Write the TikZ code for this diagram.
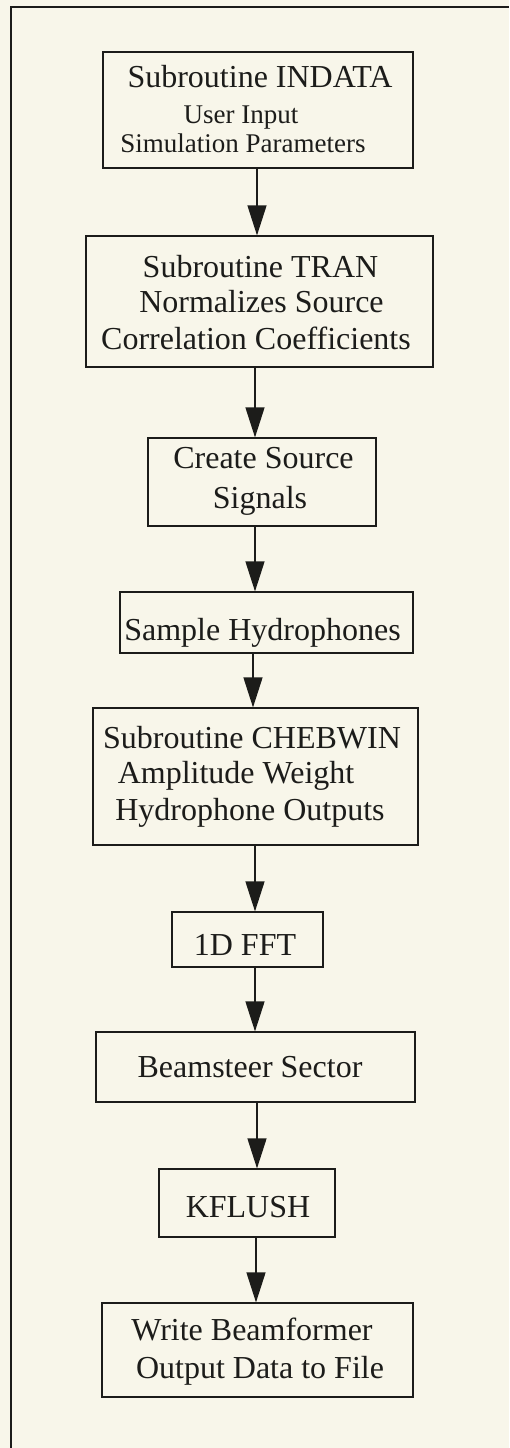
\documentclass[tikz,border=0pt]{standalone}
\usepackage{fontspec}
\setmainfont{Liberation Serif}
\usetikzlibrary{arrows.meta}
\definecolor{paper}{HTML}{F8F6EA}
\definecolor{ink}{HTML}{1C1C1A}
\begin{document}
\begin{tikzpicture}[x=1pt,y=-1pt,
  stepbox/.style={draw=ink, line width=1.2pt, inner sep=0pt, fill=none},
  txt/.style={anchor=base, inner sep=0pt, text=ink, font=\fontsize{32}{38}\selectfont},
  txtsmall/.style={txt, font=\fontsize{27}{31}\selectfont},
  flow/.style={draw=ink, line width=1.2pt, -{Triangle[length=30pt,width=19pt]}},
  frameline/.style={draw=ink, line width=2pt}]
  % page
  \fill[paper] (0,0) rectangle (509,1448);
  \useasboundingbox (0,0) rectangle (509,1448);
  % outer frame (left and top edges)
  \coordinate (fl) at (10.5,1448);
  \coordinate (fc) at (10.5,7);
  \coordinate (fr) at (509,7);
  \draw[frameline] (fl) -- (fc) -- (fr);

  % boxes
  \node[stepbox, minimum width=310, minimum height=116] (b1) at (258,110) {};
  \node[stepbox, minimum width=347, minimum height=131] (b2) at (259.5,301.5) {};
  \node[stepbox, minimum width=228, minimum height=88]  (b3) at (262,482) {};
  \node[stepbox, minimum width=293, minimum height=61]  (b4) at (266.5,622.5) {};
  \node[stepbox, minimum width=325, minimum height=137] (b5) at (255.5,776.5) {};
  \node[stepbox, minimum width=151, minimum height=55]  (b6) at (247.5,939.5) {};
  \node[stepbox, minimum width=319, minimum height=70]  (b7) at (255.5,1067) {};
  \node[stepbox, minimum width=176, minimum height=68]  (b8) at (247,1203) {};
  \node[stepbox, minimum width=311, minimum height=94]  (b9) at (257.5,1350) {};

  % labels
  \node[txt]      (t1a) at (260,87)  {Subroutine INDATA};
  \node[txtsmall] (t1b) at (241,123) {User Input};
  \node[txtsmall] (t1c) at (243,152) {Simulation Parameters};
  \node[txt] (t2a) at (260.5,277) {Subroutine TRAN};
  \node[txt] (t2b) at (261.5,312) {Normalizes Source};
  \node[txt] (t2c) at (256,349)   {Correlation Coefficients};
  \node[txt] (t3a) at (263.5,468) {Create Source};
  \node[txt] (t3b) at (260,508)   {Signals};
  \node[txt] (t4a) at (262.5,640) {Sample Hydrophones};
  \node[txt] (t5a) at (252,748)   {Subroutine CHEBWIN};
  \node[txt] (t5b) at (236,783)   {Amplitude Weight};
  \node[txt] (t5c) at (250,820)   {Hydrophone Outputs};
  \node[txt] (t6a) at (245,955)   {1D FFT};
  \node[txt] (t7a) at (250,1077)  {Beamsteer Sector};
  \node[txt] (t8a) at (248,1217)  {KFLUSH};
  \node[txt] (t9a) at (252,1340)  {Write Beamformer};
  \node[txt] (t9b) at (260,1378)  {Output Data to File};

  % arrow columns
  \coordinate (a1) at (257,0);
  \coordinate (a2) at (255,0);
  \coordinate (a3) at (255,0);
  \coordinate (a4) at (253,0);
  \coordinate (a5) at (255,0);
  \coordinate (a6) at (255,0);
  \coordinate (a7) at (257,0);
  \coordinate (a8) at (256,0);

  % connectors
  \draw[flow] (b1.south -| a1) -- (b2.north -| a1);
  \draw[flow] (b2.south -| a2) -- (b3.north -| a2);
  \draw[flow] (b3.south -| a3) -- (b4.north -| a3);
  \draw[flow] (b4.south -| a4) -- (b5.north -| a4);
  \draw[flow] (b5.south -| a5) -- (b6.north -| a5);
  \draw[flow] (b6.south -| a6) -- (b7.north -| a6);
  \draw[flow] (b7.south -| a7) -- (b8.north -| a7);
  \draw[flow] (b8.south -| a8) -- (b9.north -| a8);
\end{tikzpicture}
\end{document}
